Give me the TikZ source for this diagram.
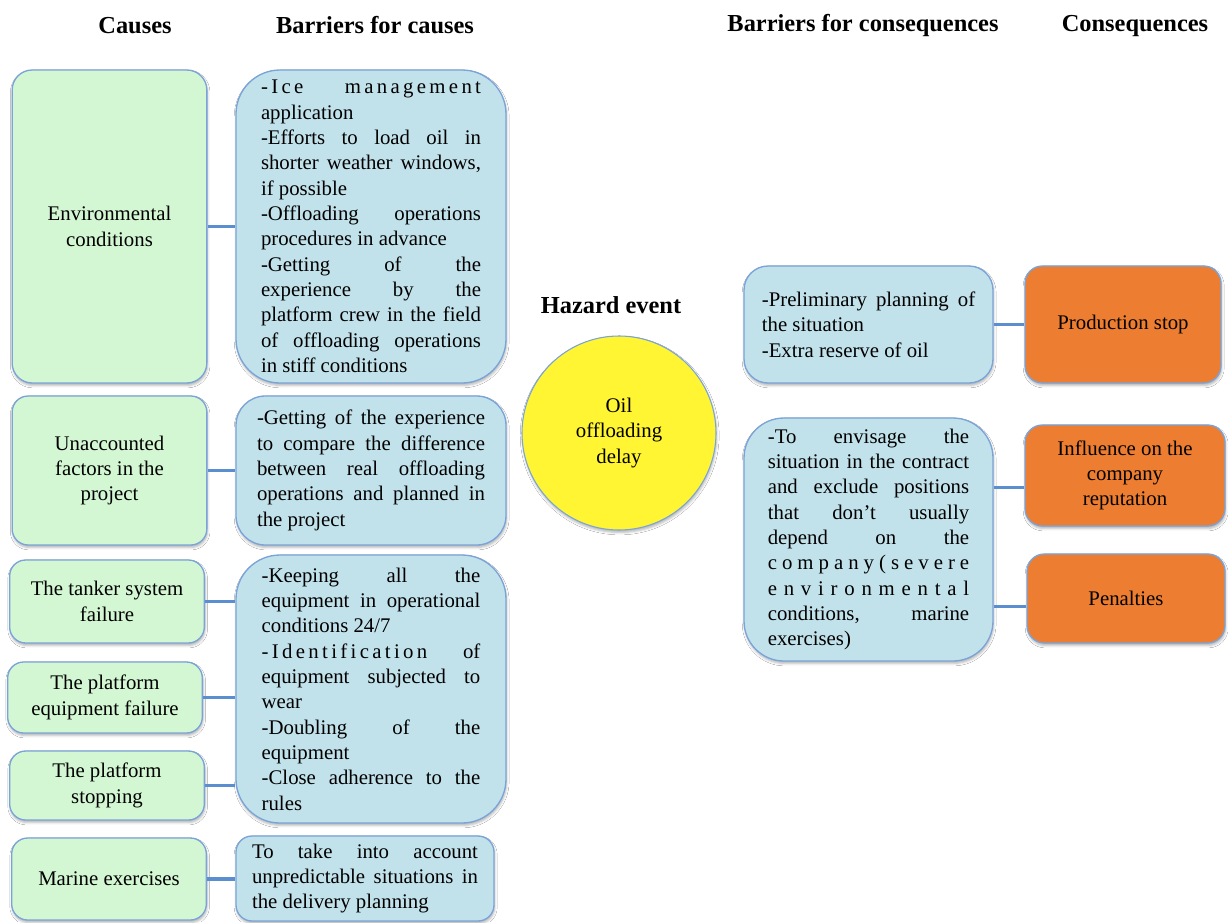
\documentclass[tikz,border=0pt]{standalone}
\usepackage{fontspec}
\setmainfont{Liberation Serif}
\usepackage{tikz}
\usetikzlibrary{shadows.blur}
\definecolor{causegreen}{HTML}{D4F7D3}
\definecolor{barrierblue}{HTML}{C2E2EB}
\definecolor{conseqorange}{HTML}{ED7D31}
\definecolor{edgeblue}{HTML}{7AA3D8}
\definecolor{linkblue}{HTML}{5A8ECF}
\definecolor{hazardyellow}{HTML}{FFF533}
% letter-spaced text
\newcommand{\ls}[1]{{\addfontfeature{LetterSpace=16}#1}}

\begin{document}
\begin{tikzpicture}[x=0.75pt,y=-0.75pt,
  every node/.append style={font=\fontsize{15.6}{19}\selectfont,inner sep=0pt},
  box/.style={draw=edgeblue,line width=1pt,blur shadow={shadow xshift=0.5pt,shadow yshift=-1.8pt,shadow opacity=30,shadow blur steps=4}},
  cause/.style={box,fill=causegreen,rounded corners=12pt,align=center,minimum width=146pt},
  barrier/.style={box,fill=barrierblue,align=justify,text width=#1},
  conseq/.style={box,fill=conseqorange,rounded corners=13pt,align=center},
  link/.style={draw=linkblue,line width=2.4pt},
  title/.style={font=\fontsize{18.3}{22}\selectfont\bfseries,anchor=base}]
  \useasboundingbox[fill=white] (0,0) rectangle (1228,922);

  % headings
  \node[title] (hCause) at (135,33) {Causes};
  \node[title] (hBarCause) at (375,33) {Barriers for causes};
  \node[title] (hBarConseq) at (863,31) {Barriers for consequences};
  \node[title] (hConseq) at (1135,31) {Consequences};
  \node[title] (hEvent) at (611,313) {Hazard event};

  % causes
  \node[cause,minimum height=234.75pt,rounded corners=15pt] (envi) at (109.5,226.5) {Environmental\\conditions};
  \node[cause,minimum height=111.75pt] (unacc) at (109.5,470.5) {Unaccounted\\factors in the\\project};
  \node[cause,minimum height=62.25pt] (tanker) at (107,601.5) {The tanker system\\failure};
  \node[cause,minimum height=53.25pt] (equip) at (105,697.5) {The platform\\equipment failure};
  \node[cause,minimum height=51.75pt] (stop) at (107,785.5) {The platform\\stopping};
  \node[cause,minimum height=61.5pt] (marine) at (109,879) {Marine exercises};

  % barriers for causes
  \node[barrier=165pt,rounded corners=33pt,minimum width=202.5pt,minimum height=234.75pt] (bEnvi) at (371,226.5) {%
    \ls{-Ice management}\linebreak application\\
    -Efforts to load oil in\linebreak shorter weather windows,\linebreak if possible\\
    -Offloading operations\linebreak procedures in advance\\
    -Getting of the\linebreak experience by the\linebreak platform crew in the field\linebreak
    of offloading operations\linebreak in stiff conditions};
  \node[barrier=171pt,rounded corners=22pt,minimum width=202.5pt,minimum height=111.75pt] (bUnacc) at (371,470.5) {%
    -Getting of the experience\linebreak to compare the difference\linebreak
    between real offloading\linebreak operations and planned in\linebreak the project};
  \node[barrier=164pt,rounded corners=33pt,minimum width=202.5pt,minimum height=201pt] (bEquip) at (371,689) {%
    -Keeping all the\linebreak equipment in operational\linebreak conditions 24/7\\
    \ls{-Identification} of\linebreak equipment subjected to\linebreak wear\\
    -Doubling of the\linebreak equipment\\
    -Close adherence to the\linebreak rules};
  \node[barrier=169.5pt,rounded corners=12pt,minimum width=193.5pt,minimum height=63.75pt] (bMarine) at (365,878.5) {%
    To take into account\linebreak unpredictable situations in\linebreak the delivery planning};

  % hazard event
  \node[circle,draw=edgeblue,line width=0.8pt,fill=hazardyellow,minimum size=145.5pt,align=center,
    blur shadow={shadow xshift=0.5pt,shadow yshift=-1.8pt,shadow opacity=30,shadow blur steps=4}] (event) at (619,433) {Oil\\offloading\\delay};

  % barriers for consequences
  \node[barrier=160pt,rounded corners=18pt,minimum width=186.75pt,minimum height=87.75pt] (qPlan) at (868.5,324.5) {%
    -Preliminary planning of\linebreak the situation\\-Extra reserve of oil};
  \node[barrier=151pt,rounded corners=30pt,minimum width=186.75pt,minimum height=182.25pt] (qContract) at (868.5,539.5) {%
    -To envisage the\linebreak situation in the contract\linebreak and exclude positions\linebreak
    that don’t usually\linebreak depend on the\linebreak c o m p a n y ( s e v e r e\linebreak
    e n v i r o n m e n t a l\linebreak conditions, marine\linebreak exercises)};

  % consequences
  \node[conseq,minimum width=147pt,minimum height=87.75pt] (prod) at (1123,324.5) {Production stop};
  \node[conseq,minimum width=150pt,minimum height=75.75pt] (reput) at (1125,475.5) {Influence on the\\company\\reputation};
  \node[conseq,minimum width=148.5pt,minimum height=66.75pt] (penal) at (1126,598.5) {Penalties};

  % links
  \foreach \c/\b in {envi/bEnvi,unacc/bUnacc,tanker/bEquip,equip/bEquip,stop/bEquip,marine/bMarine}
    \draw[link] (\c.east) -- (\c.east -| \b.west);
  \draw[link] (qPlan.east) -- (qPlan.east -| prod.west);
  \draw[link] ([yshift=-9pt]reput.west) -- ([yshift=-9pt]reput.west -| qContract.east);
  \draw[link] ([yshift=-6pt]penal.west) -- ([yshift=-6pt]penal.west -| qContract.east);
\end{tikzpicture}
\end{document}
